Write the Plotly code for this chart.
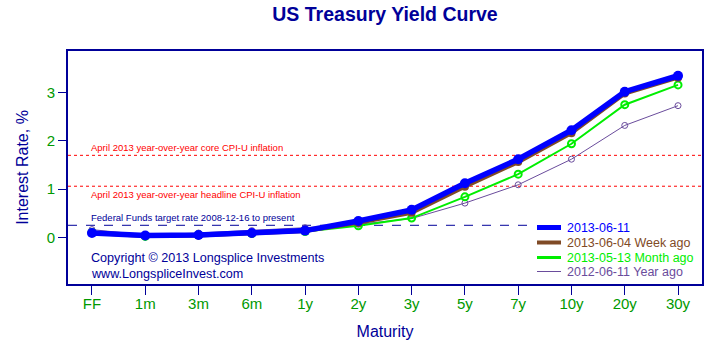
import plotly.graph_objects as go

maturities = ["FF", "1m", "3m", "6m", "1y", "2y", "3y", "5y", "7y", "10y", "20y", "30y"]
y_2013_06_11 = [0.09, 0.04, 0.05, 0.09, 0.14, 0.34, 0.57, 1.12, 1.62, 2.22, 3.02, 3.35]
y_2013_06_04 = [0.09, 0.03, 0.04, 0.08, 0.13, 0.30, 0.51, 1.05, 1.56, 2.16, 2.98, 3.31]
y_2013_05_13 = [0.10, 0.02, 0.05, 0.08, 0.12, 0.24, 0.40, 0.84, 1.31, 1.94, 2.75, 3.16]
y_2012_06_11 = [0.16, 0.05, 0.09, 0.14, 0.20, 0.27, 0.39, 0.71, 1.09, 1.62, 2.32, 2.73]

series_labels = ["2013-06-11", "2013-06-04 Week ago", "2013-05-13 Month ago", "2012-06-11 Year ago"]

core_cpi = 1.7
headline_cpi = 1.06
fed_target = 0.25

NAVY = "#000099"
GREEN_TXT = "#009900"
BLUE = "#0000ff"
BROWN = "#7f4a26"
LGREEN = "#00ee00"
PURPLE = "#6a4c9c"
FONT = "Liberation Sans, Arial, sans-serif"

# plot-area geometry (pixels) for converting legend placement to paper coords
L, R, T, B = 68, 702, 51, 284
W, H = R - L, B - T
def px(xp):
    return (xp - L) / W
def py(yp):
    return (B - yp) / H

fig = go.Figure()

fig.add_trace(go.Scatter(
    x=maturities, y=y_2012_06_11, mode="lines+markers", name=series_labels[3],
    line=dict(color=PURPLE, width=1),
    marker=dict(symbol="circle-open", size=6, color=PURPLE, line=dict(width=1)),
))
fig.add_trace(go.Scatter(
    x=maturities, y=y_2013_05_13, mode="lines+markers", name=series_labels[2],
    line=dict(color=LGREEN, width=2),
    marker=dict(symbol="circle-open", size=7, color=LGREEN, line=dict(width=2)),
))
fig.add_trace(go.Scatter(
    x=maturities, y=y_2013_06_04, mode="lines+markers", name=series_labels[1],
    line=dict(color=BROWN, width=4),
    marker=dict(symbol="circle", size=8, color=BROWN),
))
fig.add_trace(go.Scatter(
    x=maturities, y=y_2013_06_11, mode="lines+markers", name=series_labels[0],
    line=dict(color=BLUE, width=5.5),
    marker=dict(symbol="circle", size=10, color=BLUE),
))

# reference lines
fig.add_shape(type="line", xref="paper", x0=0, x1=1, yref="y", y0=core_cpi, y1=core_cpi,
              line=dict(color="#ff0000", width=1, dash="dot"), layer="below")
fig.add_shape(type="line", xref="paper", x0=0, x1=1, yref="y", y0=headline_cpi, y1=headline_cpi,
              line=dict(color="#ff0000", width=1, dash="dot"), layer="below")
fig.add_shape(type="line", xref="paper", x0=0, x1=px(528), yref="y", y0=fed_target, y1=fed_target,
              line=dict(color=NAVY, width=1, dash="dash"), layer="below")

small = dict(family=FONT, size=9.5)
fig.add_annotation(x=-0.05, y=core_cpi, xref="x", yref="y", xanchor="left", yanchor="bottom",
                   text="April 2013 year-over-year core CPI-U inflation", showarrow=False,
                   font=dict(small, color="#ff0000"))
fig.add_annotation(x=-0.05, y=headline_cpi, xref="x", yref="y", xanchor="left", yanchor="top",
                   text="April 2013 year-over-year headline CPI-U inflation", showarrow=False,
                   font=dict(small, color="#ff0000"), yshift=-1)
fig.add_annotation(x=-0.05, y=fed_target, xref="x", yref="y", xanchor="left", yanchor="bottom",
                   text="Federal Funds target rate 2008-12-16 to present", showarrow=False,
                   font=dict(small, color=NAVY))
for txt, yr in [("Copyright © 2013 Longsplice Investments", 258), ("www.LongspliceInvest.com", 273.5)]:
    fig.add_annotation(x=-0.05, y=py(yr), xref="x", yref="paper", xanchor="left", yanchor="middle",
                       text=txt, showarrow=False, align="left",
                       font=dict(family=FONT, size=12.6, color=NAVY))

# manual legend (lines only, coloured text)
leg_colors = [BLUE, BROWN, LGREEN, PURPLE]
leg_widths = [5, 4, 3, 1]
leg_rows = [227.5, 242.5, 257.5, 271.5]
for lab, col, wd, yr in zip(series_labels, leg_colors, leg_widths, leg_rows):
    fig.add_shape(type="line", xref="paper", yref="paper", x0=px(537), x1=px(561),
                  y0=py(yr), y1=py(yr), line=dict(color=col, width=wd))
    fig.add_annotation(xref="paper", yref="paper", x=px(565), y=py(yr), xanchor="left",
                       yanchor="middle", text=lab, showarrow=False,
                       font=dict(family=FONT, size=12.5, color=col))

fig.update_layout(
    width=710, height=360,
    margin=dict(l=L, r=710 - R, t=T, b=360 - B, autoexpand=False),
    paper_bgcolor="white", plot_bgcolor="white",
    font=dict(family=FONT, color=NAVY),
    title=dict(text="<b>US Treasury Yield Curve</b>", x=0.5, xref="paper", xanchor="center",
               y=0.962, yanchor="middle", font=dict(family=FONT, size=19.5, color=NAVY)),
    showlegend=False,
)
fig.update_xaxes(
    range=[-0.45, 11.45], type="category", showgrid=False, zeroline=False, automargin=False,
    showline=True, linecolor=NAVY, linewidth=2, mirror=True,
    ticks="outside", ticklen=9, tickcolor=NAVY, tickwidth=1, ticklabelstandoff=-4,
    tickfont=dict(family=FONT, size=15, color=GREEN_TXT),
    title=dict(text="Maturity", font=dict(family=FONT, size=16, color=NAVY), standoff=15),
)
fig.update_yaxes(
    range=[-0.967, 3.863], tickvals=[0, 1, 2, 3], showgrid=False, zeroline=False, automargin=False,
    showline=True, linecolor=NAVY, linewidth=2, mirror=True,
    ticks="outside", ticklen=8, tickcolor=NAVY, tickwidth=1,
    tickfont=dict(family=FONT, size=15, color=GREEN_TXT),
    title=dict(text="Interest Rate, %", font=dict(family=FONT, size=16, color=NAVY), standoff=14),
)

fig.write_html("out.html", config={"displayModeBar": False},
               post_script="document.body.style.margin='0';")
